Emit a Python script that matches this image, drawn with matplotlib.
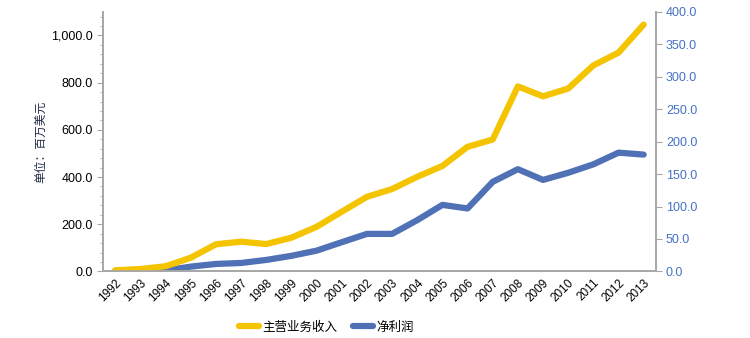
import matplotlib
matplotlib.use("Agg")
import matplotlib.pyplot as plt
from matplotlib.ticker import FuncFormatter, MultipleLocator
import numpy as np

years = [str(y) for y in range(1992, 2014)]
revenue = [5, 10, 22, 58, 115, 126, 116, 143, 189, 253, 316, 349, 401, 447,
           528, 559, 784, 742, 775, 873, 927, 1046]
profit = [1, 1, 1.5, 7.4, 11.5, 13, 17.7, 24, 32, 45, 57.8, 57.8, 79, 102.5,
          97, 138, 157.5, 141, 152, 165, 183, 180]

yellow = "#F5C400"
blue = "#5071B6"
grey = "#A6A6A6"

plt.rcParams['font.family'] = ['Liberation Sans', 'Noto Sans CJK SC', 'DejaVu Sans']

fig = plt.figure(figsize=(7.5, 3.38), dpi=100)
ax = fig.add_axes([0.137, 0.197, 0.738, 0.768])
ax2 = ax.twinx()

x = np.arange(len(years))
l1, = ax.plot(x, revenue, color=yellow, lw=4.5, solid_capstyle='round', solid_joinstyle='round', label='主营业务收入')
l2, = ax2.plot(x, profit, color=blue, lw=4.5, solid_capstyle='round', solid_joinstyle='round', label='净利润')

ax.set_xlim(-0.5, len(years) - 0.5)
ax.set_ylim(0, 1100)
ax2.set_ylim(0, 400)

ax.yaxis.set_major_locator(MultipleLocator(200))
ax.yaxis.set_minor_locator(MultipleLocator(40))
ax.yaxis.set_major_formatter(FuncFormatter(lambda v, p: f"{v:,.1f}"))
ax2.yaxis.set_major_locator(MultipleLocator(50))
ax2.yaxis.set_major_formatter(FuncFormatter(lambda v, p: f"{v:.1f}"))

ax.set_xticks(x)
ax.set_xticklabels(years, rotation=45, ha='right', rotation_mode='anchor', fontsize=8.5)
ax.tick_params(axis='x', length=0, pad=4)
ax.tick_params(axis='y', which='major', length=4, color=grey, labelsize=9, pad=3)
ax.tick_params(axis='y', which='minor', length=2.5, color=grey)
ax2.tick_params(axis='y', length=4, color=grey, labelsize=9, labelcolor="#4472C4", pad=3)

for a in (ax, ax2):
    a.spines['top'].set_visible(False)
    for s in ('left', 'right', 'bottom'):
        a.spines[s].set_color(grey)
        a.spines[s].set_linewidth(1.2)

ax.set_ylabel('单位：百万美元', fontsize=8.5, color="#1F2A44",
              family=['Noto Sans CJK SC', 'DejaVu Sans'])
ax.yaxis.set_label_coords(-0.0995, 0.5)

ax2.set_zorder(ax.get_zorder() - 1)
ax.patch.set_visible(False)

fig.legend(handles=[l1, l2], loc='center', bbox_to_anchor=(0.435, 0.032), ncol=2,
           frameon=False, prop={'family': ['Noto Sans CJK SC', 'DejaVu Sans'], 'size': 9},
           handlelength=1.6, handletextpad=0.3, columnspacing=1.2)

fig.savefig("out.png", dpi=100)
